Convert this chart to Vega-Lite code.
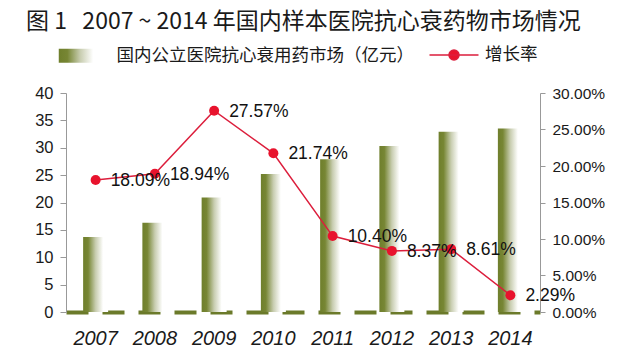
{
  "$schema": "https://vega.github.io/schema/vega-lite/v6.json",
  "width": 474,
  "height": 219,
  "autosize": {"type": "none"},
  "padding": {"left": 66, "top": 93, "right": 100, "bottom": 45},
  "background": "white",
  "title": {
    "text": "图 1\u00a0\u00a0 2007 ~ 2014 年国内样本医院抗心衰药物市场情况",
    "anchor": "start",
    "frame": "group",
    "dx": -40,
    "offset": 10,
    "font": "Noto Sans CJK SC",
    "fontSize": 23,
    "fontWeight": "normal",
    "color": "#1a1a1a"
  },
  "data": {
    "values": [
      {"year": "2007", "market": 13.7, "growth": 0.1809},
      {"year": "2008", "market": 16.3, "growth": 0.1894},
      {"year": "2009", "market": 20.9, "growth": 0.2757},
      {"year": "2010", "market": 25.2, "growth": 0.2174},
      {"year": "2011", "market": 27.9, "growth": 0.1040},
      {"year": "2012", "market": 30.3, "growth": 0.0837},
      {"year": "2013", "market": 32.9, "growth": 0.0861},
      {"year": "2014", "market": 33.5, "growth": 0.0229}
    ]
  },
  "encoding": {
    "x": {
      "field": "year",
      "type": "nominal",
      "sort": null,
      "scale": {"paddingInner": 0, "paddingOuter": 0},
      "axis": {
        "title": null,
        "labelAngle": 0,
        "ticks": false,
        "labelPadding": 16,
        "labelFont": "Liberation Sans",
        "labelFontStyle": "italic",
        "labelFontSize": 20,
        "labelColor": "#1a1a1a",
        "domainColor": "#6b7a2a",
        "domainWidth": 4,
        "domainDash": [22, 14],
        "grid": false
      }
    }
  },
  "layer": [
    {
      "mark": {
        "type": "bar",
        "width": 25,
        "fill": {
          "gradient": "linear",
          "x1": 0, "y1": 0, "x2": 1, "y2": 0,
          "stops": [
            {"offset": 0, "color": "#6f7f2c"},
            {"offset": 0.2, "color": "#778634"},
            {"offset": 0.5, "color": "#c8cdb0"},
            {"offset": 0.8, "color": "#ffffff"}
          ]
        }
      },
      "encoding": {
        "y": {
          "field": "market",
          "type": "quantitative",
          "scale": {"domain": [0, 40]},
          "axis": {
            "title": null,
            "values": [0, 5, 10, 15, 20, 25, 30, 35, 40],
            "grid": false,
            "domainColor": "#999999",
            "tickColor": "#999999",
            "tickSize": 6,
            "labelPadding": 7,
            "labelFont": "Liberation Sans",
            "labelFontSize": 16.5,
            "labelColor": "#1a1a1a"
          }
        },
        "opacity": {
          "datum": "国内公立医院抗心衰用药市场（亿元）",
          "type": "nominal",
          "scale": {"range": [1]},
          "legend": {
            "orient": "none",
            "legendX": 5.5,
            "legendY": -46,
            "title": null,
            "padding": 0,
            "symbolType": "M-3.07,-1H3.07V1H-3.07Z",
            "symbolSize": 196,
            "labelOffset": 27.5,
            "labelFont": "Noto Sans CJK SC",
            "labelFontSize": 17.5,
            "labelColor": "#1a1a1a",
            "labelLimit": 400,
            "encode": {
              "symbols": {
                "update": {
                  "fill": {"value": {
                    "gradient": "linear",
                    "x1": 0, "y1": 0, "x2": 1, "y2": 0,
                    "stops": [
                      {"offset": 0, "color": "#6f7f2c"},
                      {"offset": 0.2, "color": "#778634"},
                      {"offset": 0.5, "color": "#c8cdb0"},
                      {"offset": 0.85, "color": "#ffffff"}
                    ]
                  }},
                  "stroke": {"value": "transparent"},
                  "opacity": {"value": 1}
                }
              }
            }
          }
        }
      }
    },
    {
      "encoding": {
        "y": {
          "field": "growth",
          "type": "quantitative",
          "scale": {"domain": [0, 0.3]},
          "axis": {
            "orient": "right",
            "title": null,
            "values": [0, 0.05, 0.1, 0.15, 0.2, 0.25, 0.3],
            "format": ".2%",
            "grid": false,
            "domainColor": "#999999",
            "tickColor": "#999999",
            "tickSize": 5,
            "labelPadding": 7,
            "labelFont": "Liberation Sans",
            "labelFontSize": 15.5,
            "labelColor": "#1a1a1a"
          }
        }
      },
      "layer": [
        {
          "mark": {"type": "line", "strokeWidth": 1.5},
          "encoding": {
            "color": {
              "datum": "增长率",
              "type": "nominal",
              "scale": {"range": ["#dc1e3c"]},
              "legend": {
                "orient": "none",
                "legendX": 377,
                "legendY": -49,
                "title": null,
                "padding": 0,
                "symbolType": "M-2.45,0H2.45M-0.5,0A0.5,0.5,0,1,1,0.5,0A0.5,0.5,0,1,1,-0.5,0Z",
                "symbolSize": 400,
                "labelOffset": 20,
                "labelFont": "Noto Sans CJK SC",
                "labelFontSize": 17.5,
                "labelColor": "#1a1a1a",
                "encode": {
                  "symbols": {
                    "update": {
                      "fill": {"value": "#e8132d"},
                      "stroke": {"value": "#dc1e3c"},
                      "strokeWidth": {"value": 1.5},
                      "opacity": {"value": 1}
                    }
                  }
                }
              }
            }
          }
        },
        {
          "mark": {"type": "point", "filled": true, "size": 100, "color": "#e8132d", "opacity": 1}
        },
        {
          "mark": {
            "type": "text",
            "align": "left",
            "baseline": "middle",
            "dx": 15,
            "dy": 1,
            "font": "Liberation Sans",
            "fontSize": 17.5,
            "color": "#111111"
          },
          "encoding": {
            "text": {"field": "growth", "type": "quantitative", "format": ".2%"}
          }
        }
      ]
    }
  ],
  "resolve": {"scale": {"y": "independent", "opacity": "independent", "color": "independent"}},
  "config": {
    "view": {"stroke": null},
    "axis": {"labelOverlap": false}
  }
}
